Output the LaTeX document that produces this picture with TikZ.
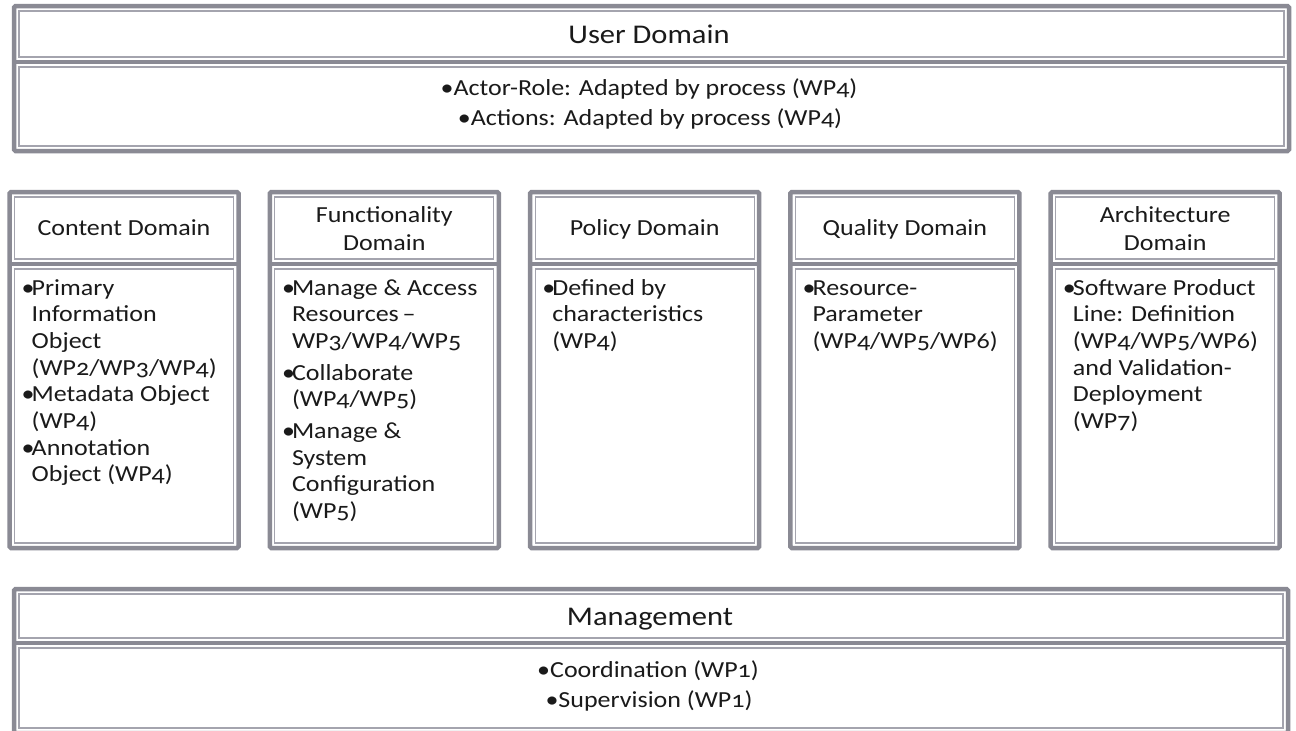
\documentclass[tikz,border=0pt]{standalone}
\usepackage{fontspec}
\setmainfont[FakeStretch=1.13,Numbers=OldStyle]{Carlito}
\definecolor{frame}{HTML}{8A8A94}
\definecolor{thinline}{HTML}{A4A4AE}
\definecolor{ink}{HTML}{1A1A1A}
\newcommand{\bul}{\makebox[10pt][l]{\textbullet}}
\newcommand{\ind}{\hspace*{10pt}}
\newcommand{\panelbox}[5]{%
  \draw[outerframe] (#1,#2) rectangle (#3,#4);
  \draw[divline] (#1,#5) -- (#3,#5);
  \draw[innerframe] (#1+5,#2+5) rectangle (#3-5,#5-5);
  \draw[innerframe] (#1+5,#5+5) rectangle (#3-5,#4-5);
}
\tikzset{
  outerframe/.style={draw=frame, line width=4.5pt, fill=white, rounded corners=1.5pt},
  divline/.style={draw=frame, line width=4.5pt},
  innerframe/.style={draw=thinline, line width=1.2pt},
  txt/.style={text=ink, inner sep=0pt, font=\fontsize{23}{26.7}\selectfont},
  headtxt/.style={txt, anchor=base, align=center, font=\fontsize{23}{28}\selectfont},
  bigheadtxt/.style={txt, anchor=base, font=\fontsize{27}{30}\selectfont},
  bodytxt/.style={txt, anchor=base west, align=left},
}
\begin{document}
\begin{tikzpicture}[x=1pt,y=-1pt]
\useasboundingbox (0,0) rectangle (1296,731);
\clip (0,0) rectangle (1296,731);
\fill[white] (0,0) rectangle (1296,731);

% User domain
\panelbox{14}{6}{1289}{151}{62}
\node[bigheadtxt] (ud) at (649,43) {User Domain};
\node[txt, anchor=base] (ud1) at (649,95) {\textbullet Actor-Role: Adapted by process (WP4)};
\node[txt, anchor=base] (ud2) at (650,125) {\textbullet Actions: Adapted by process (WP4)};

% Columns
\panelbox{9.5}{192}{238.5}{548}{264}
\panelbox{269.8}{192}{498.8}{548}{264}
\panelbox{530.1}{192}{759.1}{548}{264}
\panelbox{790.4}{192}{1019.4}{548}{264}
\panelbox{1050.7}{192}{1279.7}{548}{264}

% headers (anchor base = baseline of last line)
\node[headtxt] (cdh) at (124,235) {Content Domain};
\node[headtxt] (fdh) at (384.3,250) {Functionality\\Domain};
\node[headtxt] (pdh) at (644.6,235) {Policy Domain};
\node[headtxt] (qdh) at (904.9,235) {Quality Domain};
\node[headtxt] (adh) at (1165.2,250) {Architecture\\Domain};

% bodies (anchor base west = baseline of last line; first line at 295)
\node[bodytxt] (cdb) at (21.5,481.9) {\bul Primary\\ \ind Information\\ \ind Object\\ \ind (WP2/WP3/WP4)\\ \bul Metadata Object\\ \ind (WP4)\\ \bul Annotation\\ \ind Object (WP4)};
\node[bodytxt] (fdb) at (281.8,518.6) {\bul Manage \& Access\\ \ind Resources\,–\\ \ind WP3/WP4/WP5\\[5pt] \bul Collaborate\\ \ind (WP4/WP5)\\[5pt] \bul Manage \&\\ \ind System\\ \ind Configuration\\ \ind (WP5)};
\node[bodytxt] (pdb) at (542.1,348.4) {\bul Defined by\\ \ind characteristics\\ \ind (WP4)};
\node[bodytxt] (qdb) at (802.4,348.4) {\bul Resource-\\ \ind Parameter\\ \ind (WP4/WP5/WP6)};
\node[bodytxt] (adb) at (1062.7,428.5) {\bul Software Product\\ \ind Line: Definition\\ \ind (WP4/WP5/WP6)\\ \ind and Validation-\\ \ind Deployment\\ \ind (WP7)};

% Management
\panelbox{14}{589}{1288}{733}{643}
\node[bigheadtxt] (mg) at (650,625) {Management};
\node[txt, anchor=base] (mg1) at (648,677) {\textbullet Coordination (WP1)};
\node[txt, anchor=base] (mg2) at (649,707) {\textbullet Supervision (WP1)};
\end{tikzpicture}
\end{document}
